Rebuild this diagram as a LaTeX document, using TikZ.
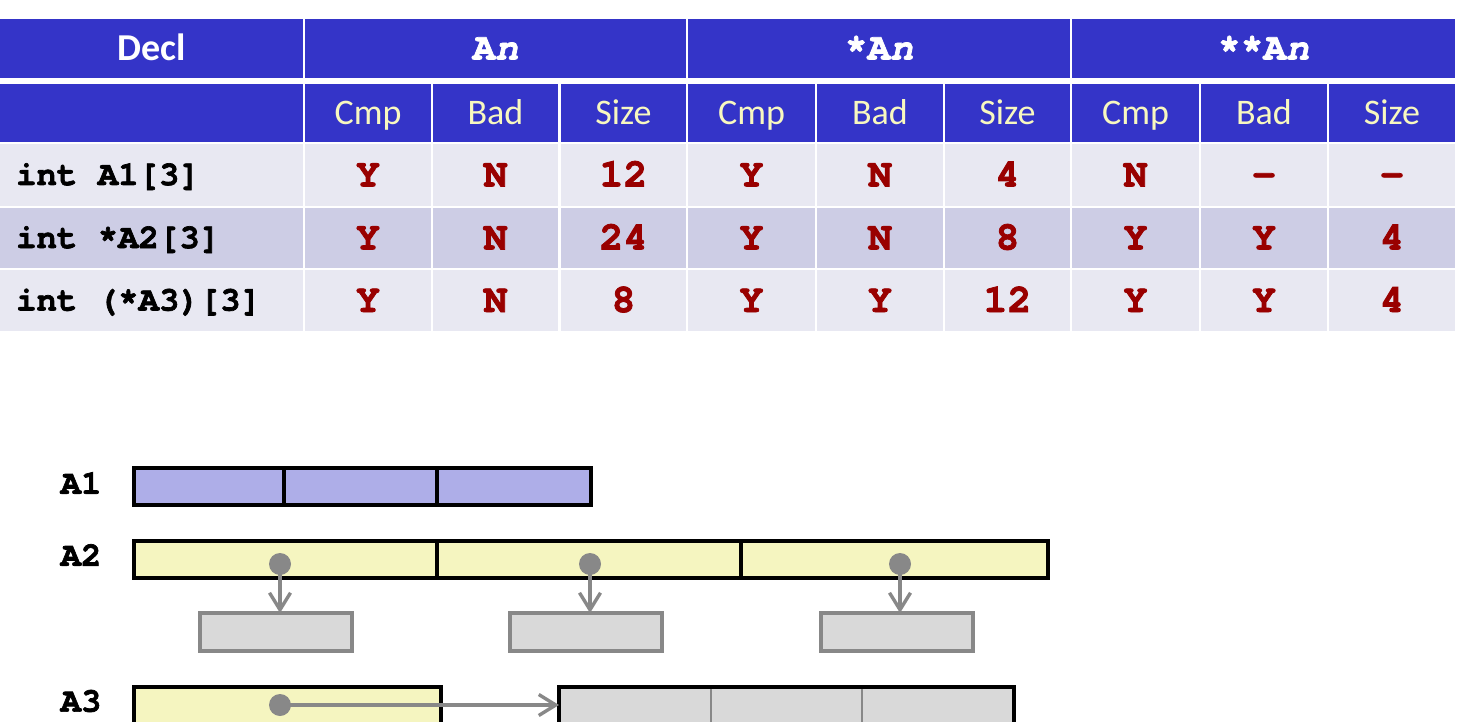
\documentclass[tikz,border=0pt]{standalone}
\usepackage{fontspec}
\setmainfont{Carlito}
\newfontfamily\monob[BoldFeatures={FakeBold=2}, BoldItalicFeatures={FakeBold=2}]{TeX Gyre Cursor}
\usetikzlibrary{arrows.meta}
\definecolor{hdrblue}{HTML}{3434C8}
\definecolor{cream}{HTML}{F8F8C0}
\definecolor{rowlight}{HTML}{E8E8F2}
\definecolor{rowdark}{HTML}{CDCDE5}
\definecolor{valred}{HTML}{990000}
\definecolor{afill}{HTML}{AEAEE8}
\definecolor{yfill}{HTML}{F5F5C0}
\definecolor{gfill}{HTML}{D9D9D9}
\definecolor{gline}{HTML}{888888}
\newcommand\tcell[7]{%
  \node[#2, minimum width={#4-#3}, minimum height={#6-#5}] (#1) at ({(#3+#4)/2},{(#5+#6)/2}) {#7};}
\begin{document}
\begin{tikzpicture}[x=1pt,y=-1pt,
  cell/.style={inner sep=0pt, outer sep=0pt, draw=none},
  hdr/.style={cell, fill=hdrblue},
  rowa/.style={cell, fill=rowlight},
  rowb/.style={cell, fill=rowdark},
  hdrtop/.style={font=\bfseries\fontsize{38}{40}\selectfont, text=white, text height=24pt, text depth=0pt},
  hdrmono/.style={font=\monob\bfseries\fontsize{38}{40}\selectfont, text=white, text height=22pt, text depth=0pt},
  sub/.style={font=\fontsize{36}{40}\selectfont, text=cream, text height=23pt, text depth=0pt},
  val/.style={font=\monob\bfseries\fontsize{40}{44}\selectfont, text=valred, text height=23pt, text depth=0pt},
  declt/.style={inner sep=0pt, anchor=west, font={\monob\bfseries\fontsize{34}{36}\selectfont\spaceskip=0.6em\relax}, text=black, text height=20pt, text depth=0pt},
  blk/.style={draw=black, line width=3.4pt, inner sep=0pt, outer sep=0pt},
  acell/.style={blk, fill=afill},
  ycell/.style={blk, fill=yfill},
  gbox/.style={draw=gline, line width=3.2pt, fill=gfill, inner sep=0pt, outer sep=0pt},
  gcell/.style={cell, fill=gfill},
  dot/.style={circle, fill=gline, minimum size=22pt, inner sep=0pt},
  ptr/.style={draw=gline, line width=3.4pt, -{Straight Barb[length=17pt,width=21pt,line width=3.4pt]}},
  lbl/.style={font=\monob\bfseries\fontsize{34}{36}\selectfont, text=black}
]
\useasboundingbox (0,0) rectangle (1472,722);
\clip (0,0) rectangle (1472,722);
\fill[white] (0,0) rectangle (1472,722);

% header row 1
\tcell{hDecl}{hdr,hdrtop}{0}{303}{19}{78}{Decl}
\tcell{hAn}{hdr,hdrmono}{305}{686}{19}{78}{A\textit{n}}
\tcell{hsAn}{hdr,hdrmono}{688}{1070}{19}{78}{*A\textit{n}}
\tcell{hssAn}{hdr,hdrmono}{1072}{1455}{19}{78}{**A\textit{n}}
% header row 2
\tcell{h2Decl}{hdr}{0}{303}{84}{142}{}
\foreach \i/\xa/\xb/\t in {1/305/431/Cmp,2/433/558/Bad,3/561/686/Size,4/688/815/Cmp,5/817/943/Bad,6/945/1070/Size,7/1072/1199/Cmp,8/1201/1327/Bad,9/1329/1455/Size}
  \tcell{h2c\i}{hdr,sub}{\xa}{\xb}{84}{142}{\t};

% row 1
\tcell{r1d}{rowa}{0}{303}{144}{206}{}
\node[declt] (r1t) at ([xshift=16pt]r1d.west) {int A1[3]};
\foreach \i/\xa/\xb/\t in {1/305/431/Y,2/433/558/N,3/561/686/12,4/688/815/Y,5/817/943/N,6/945/1070/4,7/1072/1199/N,8/1201/1327/–,9/1329/1455/–}
  \tcell{r1c\i}{rowa,val}{\xa}{\xb}{144}{206}{\t};
% row 2
\tcell{r2d}{rowb}{0}{303}{208}{268}{}
\node[declt] (r2t) at ([xshift=16pt]r2d.west) {int *A2[3]};
\foreach \i/\xa/\xb/\t in {1/305/431/Y,2/433/558/N,3/561/686/24,4/688/815/Y,5/817/943/N,6/945/1070/8,7/1072/1199/Y,8/1201/1327/Y,9/1329/1455/4}
  \tcell{r2c\i}{rowb,val}{\xa}{\xb}{208}{268}{\t};
% row 3
\tcell{r3d}{rowa}{0}{303}{270}{331}{}
\node[declt] (r3t) at ([xshift=16pt]r3d.west) {int (*A3)[3]};
\foreach \i/\xa/\xb/\t in {1/305/431/Y,2/433/558/N,3/561/686/8,4/688/815/Y,5/817/943/Y,6/945/1070/12,7/1072/1199/Y,8/1201/1327/Y,9/1329/1455/4}
  \tcell{r3c\i}{rowa,val}{\xa}{\xb}{270}{331}{\t};

% ---- memory diagram ----
\node[lbl] (lA1) at (81,483) {A1};
\node[lbl] (lA2) at (81,555) {A2};
\node[lbl] (lA3) at (81,701) {A3};

% A1
\tcell{a1a}{acell}{134}{284}{468}{505}{}
\tcell{a1b}{acell}{284}{437}{468}{505}{}
\tcell{a1c}{acell}{437}{591}{468}{505}{}

% A2
\tcell{a2a}{ycell}{134}{437}{541}{578}{}
\tcell{a2b}{ycell}{437}{741}{541}{578}{}
\tcell{a2c}{ycell}{741}{1048}{541}{578}{}
\tcell{g1}{gbox}{200}{352}{613}{651}{}
\tcell{g2}{gbox}{510}{662}{613}{651}{}
\tcell{g3}{gbox}{821}{973}{613}{651}{}
\node[dot] (d1) at (280,564) {};
\node[dot] (d2) at (590,564) {};
\node[dot] (d3) at (900,564) {};
\draw[ptr] (d1.center) -- (d1.center |- g1.north);
\draw[ptr] (d2.center) -- (d2.center |- g2.north);
\draw[ptr] (d3.center) -- (d3.center |- g3.north);

% A3
\tcell{a3p}{ycell}{134}{441}{687}{760}{}
\tcell{a3a}{gcell}{559}{711}{687}{760}{}
\tcell{a3b}{gcell}{711}{862}{687}{760}{}
\tcell{a3c}{gcell}{862}{1014}{687}{760}{}
\draw[gline, line width=2.6pt] (a3a.north east) -- (a3a.south east);
\draw[gline, line width=2.6pt] (a3b.north east) -- (a3b.south east);
\draw[blk] (a3a.north west) rectangle (a3c.south east);
\node[dot] (d4) at (280,705) {};
\draw[ptr] (d4.center) -- (d4.center -| a3a.west);
\end{tikzpicture}
\end{document}
